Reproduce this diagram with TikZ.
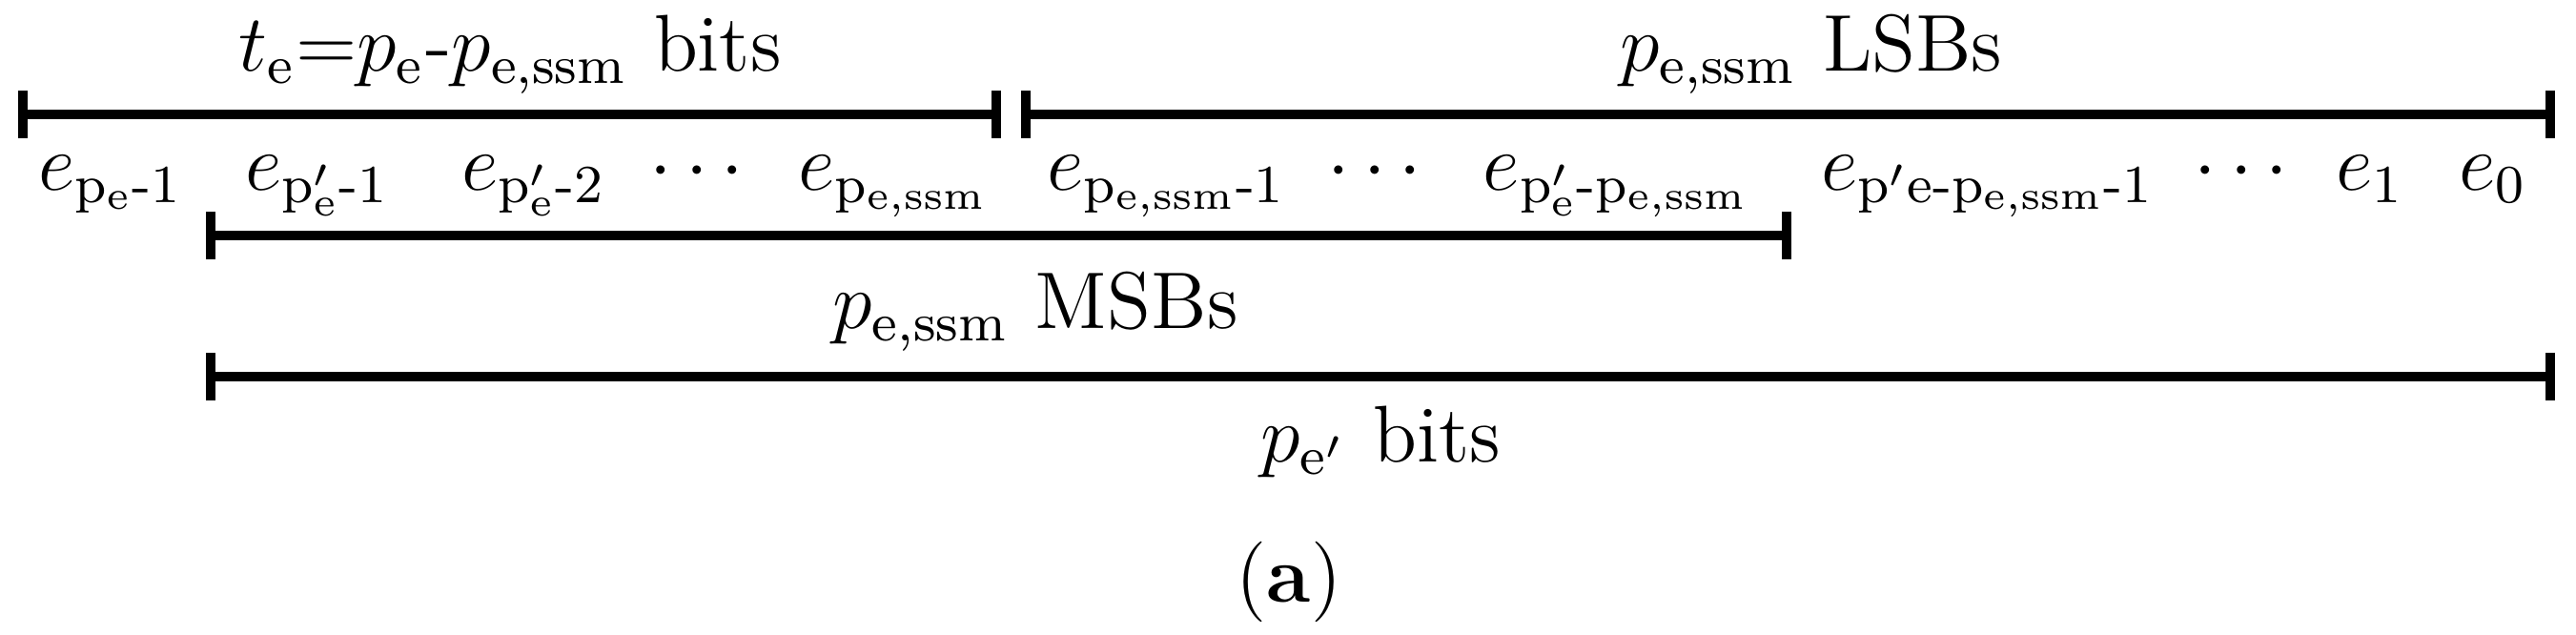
\documentclass[tikz,border=0pt]{standalone}
\usepackage{amsmath}
\usepackage{tikz}
\usetikzlibrary{arrows.meta}

\begin{document}
\begin{tikzpicture}[
  font=\fontsize{12}{14}\selectfont,
  bar/.style = {{Bar[width=0.25cm]}-{Bar[width=0.25cm]}, line width=1.4pt},
  lbl/.style = {anchor=base, inner sep=0pt},
]
\useasboundingbox (0,0) rectangle (13.51,3.33);

% end points of the bars
\coordinate (tl)  at (0.095,2.73);
\coordinate (tm1) at (5.25,2.73);
\coordinate (tm2) at (5.355,2.73);
\coordinate (tr)  at (13.40,2.73);
\coordinate (ml)  at (1.08,2.095);
\coordinate (mr)  at (9.395,2.095);
\coordinate (bl)  at (1.08,1.355);
\coordinate (br)  at (13.40,1.355);

\draw[bar] (tl) -- (tm1);
\draw[bar] (tm2) -- (tr);
\draw[bar] (ml) -- (mr);
\draw[bar] (bl) -- (br);

% bar labels
\node[lbl] at (2.675,2.955) (te)   {$t_\mathrm{e}$=$p_\mathrm{e}$-$p_\mathrm{e,ssm}$ bits};
\node[lbl] at (9.5,2.955)   (lsb)  {$p_\mathrm{e,ssm}$ LSBs};
\node[lbl] at (5.43,1.605)  (msb)  {$p_\mathrm{e,ssm}$ MSBs};
\node[lbl] at (7.24,0.905)  (bits) {$p_{\mathrm{e}'}$ bits};

% bit row
\node[lbl] at (0.58,2.33)   (epe)  {$e_{\mathrm{p}_\mathrm{e}\text{-}1}$};
\node[lbl] at (1.665,2.33)  (ep1)  {$e_{\mathrm{p}'_\mathrm{e}\text{-}1}$};
\node[lbl] at (2.8,2.33)    (ep2)  {$e_{\mathrm{p}'_\mathrm{e}\text{-}2}$};
\node[lbl] at (3.69,2.33)   (dt1)  {$\cdots$};
\node[lbl] at (4.69,2.33)   (ess)  {$e_{\mathrm{p}_\mathrm{e,ssm}}$};
\node[lbl] at (6.12,2.33)   (ess1) {$e_{\mathrm{p}_\mathrm{e,ssm}\text{-}1}$};
\node[lbl] at (7.245,2.33)  (dt2)  {$\cdots$};
\node[lbl] at (8.48,2.33)   (edf)  {$e_{\mathrm{p}'_\mathrm{e}\text{-}\mathrm{p}_\mathrm{e,ssm}}$};
\node[lbl] at (10.425,2.33) (edf1) {$e_{\mathrm{p}'\mathrm{e}\text{-}\mathrm{p}_\mathrm{e,ssm}\text{-}1}$};
\node[lbl] at (11.79,2.33)  (dt3)  {$\cdots$};
\node[lbl] at (12.43,2.33)  (e1)   {$e_1$};
\node[lbl] at (13.075,2.33) (e0)   {$e_0$};

\node at (6.76,0.28) (cap) {(\textbf{a})};
\end{tikzpicture}
\end{document}
